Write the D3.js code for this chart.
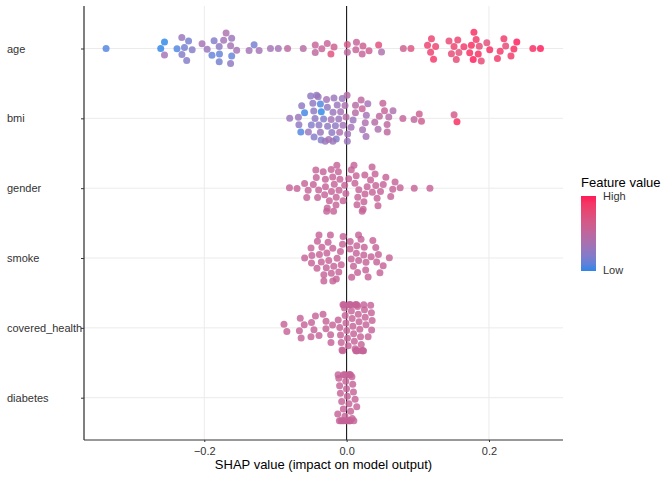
<!DOCTYPE html>
<html>
<head>
<meta charset="utf-8">
<script src="https://cdn.jsdelivr.net/npm/d3@7"></script>
<style>
  body { margin: 0; background: #fff; }
  text { font-family: "Liberation Sans", Arial, sans-serif; }
</style>
</head>
<body>
<svg id="chart" width="672" height="480"></svg>
<script>
// features, top to bottom
const features = ["age", "bmi", "gender", "smoke", "covered_health", "diabetes"];
const xTicks = [-0.2, 0, 0.2];

// SHAP values per feature, and scaled feature values (0 = low, 1 = high) where they vary
const ageShap = [-0.338,-0.261,-0.256,-0.256,-0.238,-0.231,-0.225,-0.223,-0.231,-0.228,-0.217,-0.203,-0.196,-0.186,-0.189,-0.179,-0.179,-0.179,-0.173,-0.169,
  -0.162,-0.156,-0.161,-0.162,-0.163,-0.137,-0.130,-0.123,-0.107,-0.096,-0.083,-0.061,-0.044,-0.044,-0.035,-0.027,-0.018,-0.022,0.001,0.001,
  0.013,0.014,0.022,0.023,0.031,0.045,0.049,0.081,0.089,0.114,0.119,0.125,0.118,0.122,0.144,0.151,0.148,0.154,0.156,0.157,
  0.165,0.173,0.175,0.178,0.179,0.182,0.185,0.186,0.189,0.197,0.201,0.212,0.216,0.223,0.235,0.239,0.231,0.221,0.262,0.272];
const ageValue = [0.05,0,0,0.35,0.05,0.3,0.2,0.15,0.2,0.15,0.2,0.35,0.3,0.2,0.1,0.1,0.25,0.15,0.35,0.4,
  0.35,0.35,0.1,0.3,0.25,0.35,0.15,0.35,0.35,0.35,0.5,0.45,0.5,0.55,0.55,0.55,0.6,0.75,0.5,0.65,
  0.55,0.55,0.55,0.6,0.6,0.75,0.4,0.6,0.7,0.85,0.85,0.85,0.85,0.9,0.8,0.85,0.8,0.8,0.85,0.75,
  0.9,0.95,0.95,1,0.95,0.9,0.95,0.8,0.8,0.75,0.95,0.9,0.9,0.8,0.95,1,0.9,0.9,0.95,1];

const bmiShap = [-0.060,-0.080,-0.064,-0.067,-0.063,-0.067,-0.053,-0.050,-0.046,-0.047,-0.042,-0.036,-0.030,-0.028,-0.023,-0.035,-0.035,-0.046,-0.047,-0.040,
  -0.037,-0.028,-0.021,-0.016,-0.013,-0.011,0.002,-0.002,0.000,-0.009,0.008,-0.019,-0.023,-0.021,-0.045,-0.040,-0.032,-0.026,-0.018,-0.014,
  -0.008,-0.005,0.001,0.026,-0.004,0.012,0.023,0.013,-0.008,0.020,0.027,0.006,0.023,0.027,0.029,0.040,0.044,0.053,0.051,0.057,
  0.046,0.057,0.059,0.065,0.079,0.095,0.105,0.102,0.151,0.155];
const bmiValue = [0.02,0.3,0.05,0.25,0.25,0.3,0.3,0.25,0.2,0.25,0.25,0.2,0.3,0.35,0.35,0,0.05,0.25,0.2,0.25,
  0.3,0.25,0.25,0.2,0.3,0.4,0.35,0.45,0.45,0.3,0.3,0.3,0.35,0.3,0.25,0.3,0.2,0.25,0.3,0.25,
  0.35,0.3,0.3,0.4,0.4,0.45,0.55,0.45,0.35,0.5,0.35,0.35,0.35,0.35,0.35,0.45,0.4,0.55,0.55,0.5,
  0.5,0.5,0.45,0.4,0.55,0.5,0.6,0.6,0.65,0.95];

const genderShap = [-0.080,-0.070,-0.059,-0.056,-0.054,-0.046,-0.043,-0.043,-0.040,-0.039,-0.033,-0.030,-0.029,-0.028,-0.027,-0.026,-0.025,-0.023,-0.021,-0.019,
  -0.019,-0.018,-0.016,-0.015,-0.014,-0.012,-0.011,-0.009,-0.005,-0.005,-0.002,0.003,0.008,0.010,0.012,0.013,0.015,0.016,0.017,0.022,
  0.023,0.024,0.026,0.027,0.030,0.033,0.034,0.036,0.039,0.041,0.043,0.044,0.047,0.051,0.055,0.062,0.065,0.068,0.075,0.095,0.117];
const genderValue = 0.55;

const smokeShap = [-0.059,-0.050,-0.049,-0.047,-0.042,-0.040,-0.039,-0.037,-0.036,-0.033,-0.032,-0.030,-0.029,-0.028,-0.026,-0.025,-0.023,-0.022,-0.021,-0.019,
  -0.019,-0.016,-0.013,-0.012,-0.009,-0.009,-0.006,-0.005,0.005,0.008,0.009,0.010,0.012,0.013,0.015,0.015,0.016,0.017,0.019,0.022,
  0.023,0.026,0.027,0.030,0.033,0.037,0.041,0.043,0.043,0.047,0.050,0.060];
const smokeValue = 0.55;

const coveredShap = [-0.088,-0.084,-0.066,-0.065,-0.064,-0.060,-0.050,-0.049,-0.046,-0.044,-0.039,-0.033,-0.029,-0.022,-0.028,-0.023,-0.019,-0.012,
  0.000,0.005,0.009,0.015,0.002,0.009,0.015,-0.001,0.008,0.013,0.024,0.001,0.009,0.016,0.022,0.032,0.005,0.012,0.019,0.026,0.030,0.001,
  0.008,0.015,0.022,0.029,0.034,0.003,0.010,0.017,0.023,0.001,0.015,0.017,-0.002,-0.002,-0.002,-0.002,0.004,0.007,0.011,0.014,0.018,0.020,0.006,0.003];
const coveredValue = 0.55;

const diabetesShap = [-0.003,-0.002,-0.002,-0.001,-0.001,0.000,0.000,0.000,0.001,0.001,0.002,0.002,0.003,-0.003,-0.002,-0.001,0.000,0.001,0.002,-0.002,
  -0.001,0.000,0.001,-0.001,0.000,0.001,-0.002,0.000,0.002,0.012,-0.001,0.000,0.001];
const diabetesValue = 0.55;

const rows = [
  {feature: "age", shap: ageShap, value: ageValue},
  {feature: "bmi", shap: bmiShap, value: bmiValue},
  {feature: "gender", shap: genderShap, value: genderValue},
  {feature: "smoke", shap: smokeShap, value: smokeValue},
  {feature: "covered_health", shap: coveredShap, value: coveredValue},
  {feature: "diabetes", shap: diabetesShap, value: diabetesValue}
];

const svg = d3.select("#chart");
const margin = {left: 84, top: 6, right: 109, bottom: 40};
const width = 672 - margin.left - margin.right;
const height = 480 - margin.top - margin.bottom;

const x = d3.scaleLinear().domain([-0.369, 0.304]).range([margin.left, margin.left + width]);
const y = d3.scalePoint().domain(features).range([48.5, 397.7]);
const color = d3.scaleLinear().domain([0, 1]).range(["#2f86e8", "#ff1a58"]).interpolate(d3.interpolateLab);

// gridlines
svg.append("g").selectAll("line").data(features).enter().append("line")
  .attr("x1", margin.left).attr("x2", margin.left + width)
  .attr("y1", d => y(d)).attr("y2", d => y(d))
  .attr("stroke", "#ebebeb").attr("stroke-width", 1);
svg.append("g").selectAll("line").data(xTicks.filter(t => t !== 0)).enter().append("line")
  .attr("x1", d => x(d)).attr("x2", d => x(d))
  .attr("y1", margin.top).attr("y2", margin.top + height)
  .attr("stroke", "#ebebeb").attr("stroke-width", 1);

// zero line
svg.append("line")
  .attr("x1", x(0)).attr("x2", x(0))
  .attr("y1", margin.top).attr("y2", margin.top + height)
  .attr("stroke", "#000").attr("stroke-width", 1);

// build nodes and spread them vertically with a force layout
let nodes = [];
rows.forEach(r => {
  r.shap.forEach((s, i) => {
    let v = Array.isArray(r.value) ? r.value[i] : r.value;
    nodes.push({feature: r.feature, shap: s, val: v, tx: x(s), ty: y(r.feature), x: x(s), y: y(r.feature)});
  });
});
let sim = d3.forceSimulation(nodes)
  .force("x", d3.forceX(d => d.tx).strength(1))
  .force("y", d3.forceY(d => d.ty).strength(0.02))
  .force("collide", d3.forceCollide(3.8))
  .stop();
for (let i = 0; i < 300; i++) sim.tick();
nodes.forEach(d => {
  d.y = Math.max(d.ty - 23, Math.min(d.ty + 23, d.y));
});

svg.append("g").selectAll("circle").data(nodes).enter().append("circle")
  .attr("cx", d => d.x)
  .attr("cy", d => d.y)
  .attr("r", 3.5)
  .attr("fill", d => color(d.val))
  .attr("fill-opacity", 0.82);

// axes
let yAxis = svg.append("g").attr("transform", `translate(${margin.left},0)`)
  .call(d3.axisLeft(y).tickSize(3).tickPadding(0));
yAxis.select(".domain").attr("d", `M0,${margin.top}V${margin.top + height}`).attr("stroke", "#000");
yAxis.selectAll(".tick line").attr("stroke", "#333");
yAxis.selectAll(".tick text")
  .attr("x", 7 - margin.left).attr("text-anchor", "start")
  .attr("font-size", 11).attr("fill", "#333");

let xAxis = svg.append("g").attr("transform", `translate(0,${margin.top + height})`)
  .call(d3.axisBottom(x).tickValues(xTicks).tickFormat(d3.format(".1f")).tickSize(2).tickPadding(5));
xAxis.select(".domain").attr("d", `M${margin.left},0H${margin.left + width}`).attr("stroke", "#333");
xAxis.selectAll(".tick line").attr("stroke", "#333");
xAxis.selectAll(".tick text").attr("font-size", 11).attr("fill", "#333");

svg.append("text")
  .attr("x", margin.left + width / 2).attr("y", 469)
  .attr("text-anchor", "middle").attr("font-size", 13).attr("fill", "#000")
  .text("SHAP value (impact on model output)");

// legend
let defs = svg.append("defs");
let grad = defs.append("linearGradient").attr("id", "fv").attr("x1", 0).attr("y1", 1).attr("x2", 0).attr("y2", 0);
d3.range(0, 1.01, 0.1).forEach(t => {
  grad.append("stop").attr("offset", t).attr("stop-color", color(t));
});
svg.append("text").attr("x", 581).attr("y", 187).attr("font-size", 13).attr("fill", "#000").text("Feature value");
svg.append("rect").attr("x", 581).attr("y", 196).attr("width", 15).attr("height", 75).attr("fill", "url(#fv)");
svg.append("text").attr("x", 603).attr("y", 200).attr("font-size", 11).attr("fill", "#333").text("High");
svg.append("text").attr("x", 603).attr("y", 274).attr("font-size", 11).attr("fill", "#333").text("Low");
</script>
</body>
</html>
